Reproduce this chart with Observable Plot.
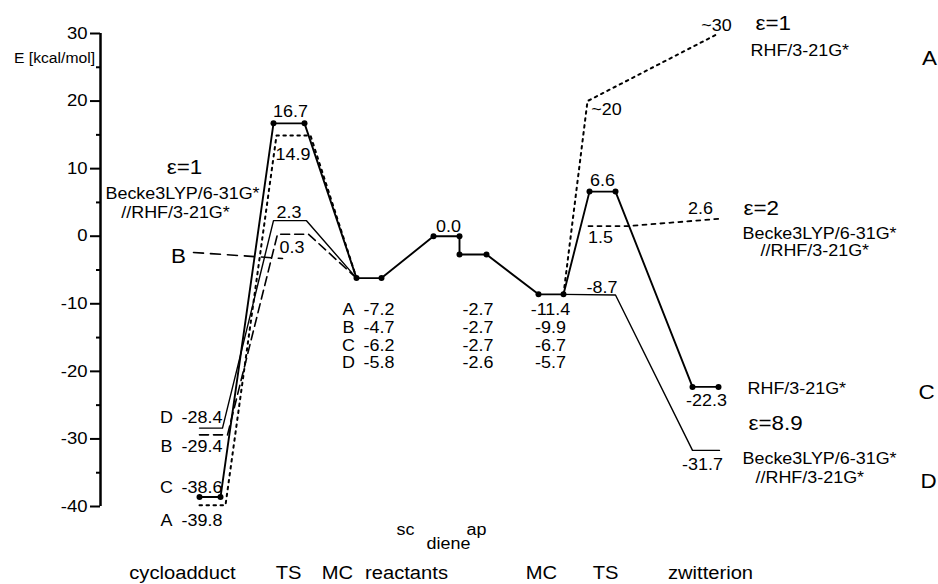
<!DOCTYPE html>
<html>
<head>
<meta charset="utf-8">
<script src="https://cdn.jsdelivr.net/npm/d3@7"></script>
<script src="https://cdn.jsdelivr.net/npm/@observablehq/plot@0.6"></script>
<style>
  html, body { margin: 0; padding: 0; background: #fff; }
  svg { display: block; }
</style>
</head>
<body>
<div id="chart"></div>
<script>
// ---- data: reaction coordinate (rc) and energy E [kcal/mol] ----
// main path (curve C, RHF/3-21G*, eps = 8.9)
const rcC = [9.9, 12.0, 17.3, 20.4, 25.6, 28.1, 33.3, 35.9, 35.9, 38.6, 43.8, 46.3, 48.9, 51.5, 59.2, 61.8];
const eC  = [-38.6, -38.6, 16.7, 16.7, -6.2, -6.2, 0.0, 0.0, -2.7, -2.7, -8.6, -8.6, 6.6, 6.6, -22.3, -22.3];
// curve A (RHF/3-21G*, eps = 1)
const rcALeft = [9.9, 12.5, 17.6, 21.0, 25.6];
const eALeft  = [-39.8, -39.8, 14.9, 14.9, -6.2];
const rcARight = [46.3, 48.7, 61.8];
const eARight  = [-8.6, 20, 30];
// curve B (Becke3LYP//RHF, eps = 1)
const rcBLeft = [9.9, 12.7, 17.7, 20.8, 25.6];
const eBLeft  = [-29.4, -29.4, 0.3, 0.3, -6.2];
const rcBLeader = [9.3, 18.2];
const eBLeader  = [-2.4, -3.3];
// curve D (Becke3LYP//RHF, eps = 8.9)
const rcDLeft = [9.9, 12.2, 17.3, 20.6, 25.6];
const eDLeft  = [-28.4, -28.4, 2.3, 2.3, -6.2];
const rcDRight = [46.3, 51.5, 59.2, 61.9];
const eDRight  = [-8.6, -8.7, -31.7, -31.7];
// Becke3LYP//RHF, eps = 2
const rcEps2 = [48.8, 52.8, 62.0];
const eEps2  = [1.5, 1.5, 2.6];

// y axis ticks
const majorTicks = [-40, -30, -20, -10, 0, 10, 20, 30];
const minorTicks = [-35, -25, -15, -5, 5, 15, 25];

// value labels (centered)
const valText = ["16.7", "14.9", "2.3", "0.3", "0.0", "6.6", "1.5", "-8.7", "-22.3", "-31.7", "~20", "~30", "2.6"];
const valRc   = [19.0, 19.25, 18.85, 19.15, 34.8, 50.2, 50.0, 50.15, 60.6, 60.2, 50.6, 61.6, 60.0];
const valE    = [18.45, 12.1, 3.4, -1.75, 1.45, 8.2, -0.27, -7.6, -24.3, -33.9, 18.75, 31.1, 4.0];

// cycloadduct labels (letter + value)
const cycLetters = ["D", "B", "C", "A"];
const cycValues  = ["-28.4", "-29.4", "-38.6", "-39.8"];
const cycE       = [-26.9, -31.2, -37.3, -42.2];

// table of values under MC / reactants / MC
const tabLetters = ["A", "B", "C", "D"];
const tabMC1     = ["-7.2", "-4.7", "-6.2", "-5.8"];
const tabReact   = ["-2.7", "-2.7", "-2.7", "-2.6"];
const tabMC2     = ["-11.4", "-9.9", "-6.7", "-5.7"];
const tabE       = [-10.9, -13.6, -16.2, -18.8];

// method labels (left aligned)
const methText = ["RHF/3-21G*", "Becke3LYP/6-31G*", "//RHF/3-21G*", "RHF/3-21G*", "Becke3LYP/6-31G*", "//RHF/3-21G*"];
const methRc   = [65.0, 64.2, 66.0, 64.7, 64.2, 65.5];
const methE    = [27.4, 0.3, -2.2, -22.6, -33.0, -35.8];
const epsText  = ["ε=1", "ε=2", "ε=8.9"];
const epsRc    = [65.5, 64.3, 64.8];
const epsE     = [31.5, 4.1, -27.7];
const curveLetters = ["A", "C", "D"];
const curveLetRc   = [82.9, 82.6, 82.8];
const curveLetE    = [26.3, -23.2, -36.3];

// left annotation
const leftText = ["Becke3LYP/6-31G*", "//RHF/3-21G*"];
const leftRc   = [8.2, 7.5];
const leftE    = [6.2, 3.4];

// stage labels
const stageText = ["cycloadduct", "TS", "MC", "reactants", "MC", "TS", "zwitterion"];
const stageRc   = [8.2, 18.8, 23.7, 30.6, 44.1, 50.5, 61.0];
const confText  = ["sc", "ap", "diene"];
const confRc    = [30.5, 37.6, 34.8];
const confE     = [-43.4, -43.4, -45.6];

const pts = (xs, ys) => xs.map((x, i) => ({x, y: ys[i]}));
const lbl = (ts, xs, ys) => ts.map((t, i) => ({t, x: xs[i], y: ys[i]}));

const FONT = "'Liberation Sans', Arial, Helvetica, sans-serif";
const STRETCH = 1.12;

const chart = Plot.plot({
  width: 938,
  height: 584,
  marginLeft: 100,
  marginRight: 0,
  marginTop: 33,
  marginBottom: 78,
  style: {fontFamily: FONT, background: "white", color: "black"},
  x: {domain: [0, 83.8], axis: null},
  y: {domain: [-40, 30], axis: null},
  marks: [
    // axis
    Plot.ruleX([0], {y1: -40, y2: 30, strokeWidth: 2.5}),
    Plot.ruleY(majorTicks, {x1: -1.0, x2: 0, strokeWidth: 2}),
    Plot.ruleY(minorTicks, {x1: -0.4, x2: 0, strokeWidth: 2}),
    Plot.text(majorTicks, {x: -1.3, y: d => d, text: d => String(d), textAnchor: "end", fontSize: 16.5}),
    Plot.text(["E [kcal/mol]"], {x: -4.6, y: 26.3, text: d => d, fontSize: 14}),

    // curves
    Plot.line(pts(rcALeft, eALeft), {x: "x", y: "y", strokeWidth: 2, strokeDasharray: "2.5,4.5"}),
    Plot.line(pts(rcARight, eARight), {x: "x", y: "y", strokeWidth: 2, strokeDasharray: "2.5,4.5"}),
    Plot.line(pts(rcBLeft, eBLeft), {x: "x", y: "y", strokeWidth: 1.6, strokeDasharray: "9,5"}),
    Plot.line(pts(rcBLeader, eBLeader), {x: "x", y: "y", strokeWidth: 1.6, strokeDasharray: "10,7"}),
    Plot.line(pts(rcEps2, eEps2), {x: "x", y: "y", strokeWidth: 1.8, strokeDasharray: "4,5"}),
    Plot.line(pts(rcDLeft, eDLeft), {x: "x", y: "y", strokeWidth: 1.4}),
    Plot.line(pts(rcDRight, eDRight), {x: "x", y: "y", strokeWidth: 1.4}),
    Plot.line(pts(rcC, eC), {x: "x", y: "y", strokeWidth: 1.9}),
    Plot.dot(pts(rcC, eC), {x: "x", y: "y", r: 3, fill: "black", stroke: "none"}),

    // value labels
    Plot.text(lbl(valText, valRc, valE), {x: "x", y: "y", text: "t", fontSize: 16}),
    Plot.text(lbl(cycLetters, cycLetters.map(() => 6.6), cycE), {x: "x", y: "y", text: "t", fontSize: 16}),
    Plot.text(lbl(cycValues, cycValues.map(() => 8.1), cycE), {x: "x", y: "y", text: "t", fontSize: 16, textAnchor: "start"}),
    Plot.text(lbl(tabLetters, tabLetters.map(() => 24.8), tabE), {x: "x", y: "y", text: "t", fontSize: 16}),
    Plot.text(lbl(tabMC1, tabMC1.map(() => 26.3), tabE), {x: "x", y: "y", text: "t", fontSize: 16, textAnchor: "start"}),
    Plot.text(lbl(tabReact, tabReact.map(() => 37.75), tabE), {x: "x", y: "y", text: "t", fontSize: 16}),
    Plot.text(lbl(tabMC2, tabMC2.map(() => 45.0), tabE), {x: "x", y: "y", text: "t", fontSize: 16}),

    // method annotations
    Plot.text(lbl(methText, methRc, methE), {x: "x", y: "y", text: "t", fontSize: 16, textAnchor: "start"}),
    Plot.text(lbl(epsText, epsRc, epsE), {x: "x", y: "y", text: "t", fontSize: 20, textAnchor: "start"}),
    Plot.text(lbl(curveLetters, curveLetRc, curveLetE), {x: "x", y: "y", text: "t", fontSize: 20}),
    Plot.text(lbl(leftText, leftRc, leftE), {x: "x", y: "y", text: "t", fontSize: 16}),
    Plot.text(["ε=1"], {x: 8.4, y: 10.1, text: d => d, fontSize: 20}),
    Plot.text(["B"], {x: 7.8, y: -3.0, text: d => d, fontSize: 20}),

    // stage labels
    Plot.text(lbl(stageText, stageRc, stageText.map(() => -49.9)), {x: "x", y: "y", text: "t", fontSize: 18}),
    Plot.text(lbl(confText, confRc, confE), {x: "x", y: "y", text: "t", fontSize: 16})
  ]
});

document.getElementById("chart").append(chart);
chart.querySelectorAll("text").forEach(t => {
  const L = t.getComputedTextLength();
  if (L > 0) {
    t.setAttribute("textLength", (L * STRETCH).toFixed(2));
    t.setAttribute("lengthAdjust", "spacingAndGlyphs");
  }
});
</script>
</body>
</html>
